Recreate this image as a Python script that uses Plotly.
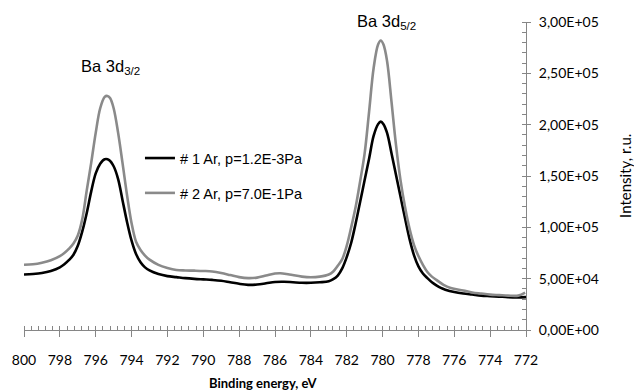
import plotly.graph_objects as go

# Binding energy (eV) and intensity (r.u.)
energy_1 = [800, 799.5, 799, 798.5, 798, 797.75, 797.5, 797.25, 797.0, 796.75, 796.5, 796.25, 796.0,
            795.75, 795.5, 795.25, 795.0, 794.75, 794.5, 794.25, 794.0, 793.75, 793.5, 793.25, 793.0,
            792.5, 792.0, 791.5, 791.0, 790.5, 790.0, 789.5, 789.0, 788.5, 788.0, 787.5, 787.0,
            786.5, 786.0, 785.5, 785.0, 784.5, 784.0, 783.5, 783.0, 782.75, 782.5, 782.25, 782.0,
            781.75, 781.5, 781.25, 781.0, 780.75, 780.5, 780.25, 780.1, 779.95, 779.75, 779.5,
            779.25, 779.0, 778.75, 778.5, 778.25, 778.0, 777.75, 777.5, 777.25, 777.0, 776.75,
            776.5, 776.0, 775.5, 775.0, 774.5, 774.0, 773.5, 773.0, 772.5, 772.0]
intensity_1 = [54000, 54500, 55500, 57500, 61000, 64000, 68000, 73000, 82000, 96000, 114000, 135000,
               152500, 162000, 166300, 165500, 159500, 147000, 126000, 105000, 87000, 74000, 66000,
               61000, 58000, 54500, 52500, 51500, 50500, 49800, 49300, 48800, 48000, 46500, 45000,
               44000, 44300, 45500, 46800, 47000, 46500, 46000, 46000, 46500, 47500, 49500, 53000,
               60000, 71000, 85000, 104000, 125000, 146000, 167000, 189000, 200500, 203000, 200500,
               192000, 172000, 151000, 130000, 109000, 89000, 73000, 62000, 55000, 50500, 46500,
               43500, 41000, 39300, 37000, 35500, 34500, 33500, 33000, 32500, 32000, 31800, 32000]

energy_2 = [800, 799.5, 799, 798.5, 798, 797.75, 797.5, 797.25, 797.0, 796.75, 796.5, 796.25, 796.0,
            795.75, 795.5, 795.35, 795.2, 795.0, 794.75, 794.5, 794.25, 794.0, 793.75, 793.5,
            793.25, 793.0, 792.5, 792.0, 791.5, 791.0, 790.5, 790.0, 789.5, 789.0, 788.5, 788.0,
            787.5, 787.0, 786.5, 786.0, 785.7, 785.2, 784.5, 784.0, 783.5, 783.0, 782.75, 782.5,
            782.25, 782.0, 781.75, 781.5, 781.25, 781.0, 780.75, 780.5, 780.25, 780.1, 779.95,
            779.75, 779.5, 779.25, 779.0, 778.75, 778.5, 778.25, 778.0, 777.75, 777.5, 777.25,
            777.0, 776.6, 776.2, 775.5, 775.0, 774.5, 774.0, 773.5, 773.0, 772.43, 772.05]
intensity_2 = [63500, 64000, 65500, 68000, 72000, 75000, 79000, 84000, 92000, 108000, 136000, 163000,
               192000, 216000, 227000, 228000, 226000, 216000, 192000, 162000, 131000, 104000,
               86000, 78000, 72500, 68500, 63500, 60500, 58500, 58000, 57800, 57500, 57000, 55500,
               53500, 51500, 50500, 51000, 53000, 55000, 55300, 54000, 52000, 51400, 52000, 54000,
               57000, 62500, 69000, 82000, 100000, 120000, 145000, 172000, 213000, 255000, 278000,
               282000, 278000, 262000, 222000, 180000, 146000, 120000, 99000, 83000, 72000, 63500,
               56500, 52000, 48800, 44000, 41000, 38500, 36600, 35500, 34500, 34000, 33500, 33500,
               36400]

series_names = ["# 1 Ar, p=1.2E-3Pa", "# 2 Ar, p=7.0E-1Pa"]

x_range = [800, 772]
y_range = [0, 300000]
x_tick_vals = [800, 798, 796, 794, 792, 790, 788, 786, 784, 782, 780, 778, 776, 774, 772]
y_tick_vals = [0, 50000, 100000, 150000, 200000, 250000, 300000]
y_tick_text = ["0,00E+00", "5,00E+04", "1,00E+05", "1,50E+05", "2,00E+05", "2,50E+05", "3,00E+05"]

peak_labels = ["Ba 3d<sub>3/2</sub>", "Ba 3d<sub>5/2</sub>"]
peak_label_x = [795.2, 779.8]
peak_label_y = [256000, 300000]

x_title = "<b>Binding energy, eV</b>"
y_title = "Intensity, r.u."

AX = "#868686"

fig = go.Figure()
fig.add_trace(go.Scatter(x=energy_1, y=intensity_1, mode="lines", name=series_names[0],
                         legendgroup="a",
                         line=dict(color="#000000", width=2.6, shape="spline", smoothing=1.0)))
fig.add_trace(go.Scatter(x=energy_2, y=intensity_2, mode="lines", name=series_names[1],
                         legendgroup="b",
                         line=dict(color="#8a8a8a", width=2.6, shape="spline", smoothing=1.0)))
# empty trace so the overlay axes (inner half of the crossing major ticks) get drawn
fig.add_trace(go.Scatter(x=[], y=[], xaxis="x2", yaxis="y2", showlegend=False, hoverinfo="skip"))

for txt, px, py in zip(peak_labels, peak_label_x, peak_label_y):
    fig.add_annotation(x=px, y=py, text=txt, showarrow=False, xanchor="center", yanchor="middle",
                       font=dict(family="Liberation Sans, Arial", size=16.5, color="#000000"))

fig.add_annotation(x=0.476, y=-0.172, xref="paper", yref="paper", text=x_title, showarrow=False,
                   xanchor="center", yanchor="middle",
                   font=dict(family="Lato", size=13, color="#000000"))
fig.add_annotation(x=1.197, y=0.5, xref="paper", yref="paper", text=y_title, showarrow=False,
                   textangle=-90, xanchor="center", yanchor="middle",
                   font=dict(family="Lato", size=15, color="#000000"))

# page body has an 8px margin: figure is sized so it ends exactly at the 642x392 window edge
fig.update_layout(
    width=634, height=384,
    margin=dict(l=16, r=116, t=14, b=62),
    paper_bgcolor="white", plot_bgcolor="white",
    showlegend=True,
    legend=dict(x=0.231, y=0.61, xanchor="left", yanchor="top", bgcolor="rgba(0,0,0,0)",
                font=dict(family="Liberation Sans, Arial", size=14.5, color="#000000"),
                tracegroupgap=13, itemwidth=30),
    xaxis=dict(range=x_range, tickvals=x_tick_vals, showgrid=False, zeroline=False,
               showline=True, linecolor=AX, linewidth=1, automargin=False,
               ticks="outside", ticklen=6, tickcolor=AX, tickwidth=1,
               minor=dict(dtick=0.4, tick0=800, ticks="inside", ticklen=4, tickcolor=AX, showgrid=False),
               tickfont=dict(family="Lato", size=14, color="#000000"),
               ticklabelstandoff=11),
    yaxis=dict(range=y_range, side="right", tickvals=y_tick_vals, ticktext=y_tick_text,
               showgrid=False, zeroline=False, showline=True, linecolor=AX, linewidth=1,
               automargin=False,
               ticks="outside", ticklen=4, tickcolor=AX, tickwidth=1,
               minor=dict(dtick=10000, tick0=0, ticks="inside", ticklen=4, tickcolor=AX, showgrid=False),
               tickfont=dict(family="Lato", size=14, color="#000000"),
               ticklabelstandoff=5),
    xaxis2=dict(range=x_range, tickvals=x_tick_vals, overlaying="x", anchor="y2", side="bottom",
                showgrid=False, zeroline=False, showline=False, showticklabels=False,
                automargin=False, ticks="inside", ticklen=4, tickcolor=AX, tickwidth=1),
    yaxis2=dict(range=y_range, tickvals=y_tick_vals, overlaying="y", anchor="x2", side="right",
                showgrid=False, zeroline=False, showline=False, showticklabels=False,
                automargin=False, ticks="inside", ticklen=4, tickcolor=AX, tickwidth=1),
)

fig.write_html("out.html")
